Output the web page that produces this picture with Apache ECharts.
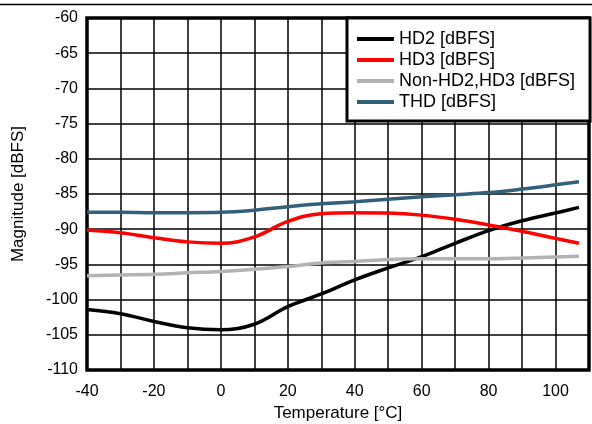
<!DOCTYPE html>
<html><head><meta charset="utf-8">
<script src="https://cdn.jsdelivr.net/npm/echarts@6/dist/echarts.min.js"></script>
<style>html,body{margin:0;padding:0;background:#fff}#c{width:592px;height:424px}</style>
</head><body><div id="c"></div>
<script>
const temps = [-40,-30,-20,-10,0,10,20,30,40,50,60,70,80,90,100,107];
const hd2   = [-101.4,-102.0,-103.1,-104.0,-104.3,-103.5,-101.0,-99.2,-97.2,-95.5,-93.9,-92.0,-90.2,-88.8,-87.7,-86.9];
const hd3   = [-90.1,-90.5,-91.2,-91.8,-92.0,-91.1,-88.9,-87.8,-87.65,-87.7,-88.0,-88.6,-89.4,-90.3,-91.3,-92.0];
const nonHd = [-96.6,-96.5,-96.4,-96.2,-96.0,-95.7,-95.3,-94.8,-94.6,-94.3,-94.2,-94.2,-94.2,-94.1,-93.95,-93.85];
const thd   = [-87.6,-87.6,-87.65,-87.65,-87.6,-87.3,-86.8,-86.4,-86.1,-85.75,-85.4,-85.1,-84.8,-84.3,-83.7,-83.25];
const names = ['HD2 [dBFS]','HD3 [dBFS]','Non-HD2,HD3 [dBFS]','THD [dBFS]'];
const colors = ['#000000','#ff0000','#b3b3b3','#31607a'];
const xTitle = 'Temperature [°C]';
const yTitle = 'Magnitude [dBFS]';

const font = '"Liberation Sans", Arial, sans-serif';
const pair = arr => temps.map((t,i)=>[t,arr[i]]);
const chart = echarts.init(document.getElementById('c'));
chart.setOption({
  animation:false,
  backgroundColor:'#fff',
  textStyle:{fontFamily:font},
  grid:{left:87,right:3,top:18,bottom:54,show:true,borderColor:'#000',borderWidth:3.5,
        containLabel:false,outerBoundsMode:'none'},
  legend:{
    orient:'vertical', left:347, top:18,
    backgroundColor:'#fff', borderColor:'#000', borderWidth:3,
    padding:[12,15,10,10], itemGap:3,
    icon:'rect', itemWidth:37, itemHeight:4, itemStyle:{borderWidth:0},
    textStyle:{fontFamily:font,fontSize:18,color:'#000',lineHeight:18},
    data:names
  },
  xAxis:{
    type:'value', min:-40, max:110, interval:10,
    name:xTitle, nameLocation:'middle', nameGap:32,
    nameTextStyle:{fontFamily:font,fontSize:17,color:'#000'},
    axisLine:{show:false}, axisTick:{show:false},
    axisLabel:{fontFamily:font,fontSize:16,color:'#000',margin:14,
      formatter:v=> (v%20===0 && v<=100) ? String(v) : ''},
    splitLine:{show:true,lineStyle:{color:'#000',width:1.5}}
  },
  yAxis:{
    type:'value', min:-110, max:-60, interval:5,
    name:yTitle, nameLocation:'middle', nameGap:60, nameRotate:90,
    nameTextStyle:{fontFamily:font,fontSize:17,color:'#000'},
    axisLine:{show:false}, axisTick:{show:false},
    axisLabel:{fontFamily:font,fontSize:16,color:'#000',margin:9},
    splitLine:{show:true,lineStyle:{color:'#000',width:1.5}}
  },
  graphic:[{type:'line',shape:{x1:0,y1:4.5,x2:592,y2:4.5},style:{stroke:'#000',lineWidth:1.5},z:100}],
  series:[hd2,hd3,nonHd,thd].map((arr,i)=>({
    name:names[i], type:'line', smooth:0.4, showSymbol:false, symbol:'none',
    data:pair(arr), color:colors[i],
    lineStyle:{color:colors[i],width:3.5}, z:2+i
  }))
});
</script></body></html>
